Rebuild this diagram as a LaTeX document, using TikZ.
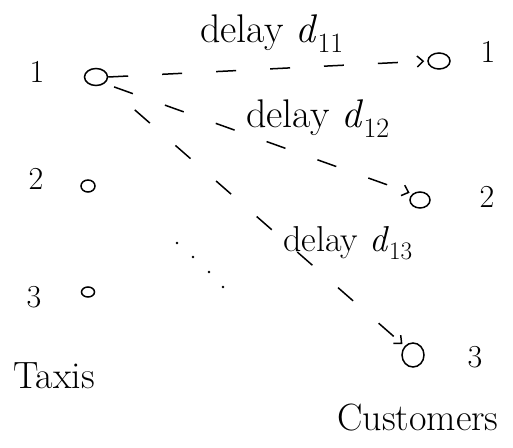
\documentclass[tikz,border=0pt]{standalone}
\usetikzlibrary{shapes.geometric,arrows.meta}
\newcommand{\dl}[1]{delay \textit{d}\textsubscript{#1}}
\begin{document}
\begin{tikzpicture}[x=1pt,y=-1pt,line width=1.5pt,
  dot/.style={ellipse,draw,inner sep=0pt},
  num/.style={font=\fontsize{32}{36}\selectfont},
  word/.style={font=\fontsize{38}{42}\selectfont},
  delaylbl/.style={font=\fontsize{40}{44}\selectfont,inner sep=0pt},
  link/.style={dash pattern=on 20pt off 34pt,shorten >=3pt,
    -{Straight Barb[length=6pt,width=11pt]}},
]
\useasboundingbox (0,0) rectangle (513,447);

% taxis
\node[num] (t1l) at (37,72) {1};
\node[dot,minimum width=23pt,minimum height=17pt] (t1) at (96,77) {};
\node[num] (t2l) at (36,179) {2};
\node[dot,minimum width=14pt,minimum height=12pt] (t2) at (88,186) {};
\node[num] (t3l) at (34,297) {3};
\node[dot,minimum width=13pt,minimum height=10pt] (t3) at (88,292) {};
\node[word] (taxis) at (54,376) {Taxis};

% customers
\node[dot,minimum width=22pt,minimum height=16pt] (c1) at (439,61) {};
\node[num] (c1l) at (488,52) {1};
\node[dot,minimum width=20pt,minimum height=16pt] (c2) at (420,200) {};
\node[num] (c2l) at (487,197) {2};
\node[dot,minimum width=22pt,minimum height=24pt] (c3) at (413,355) {};
\node[num] (c3l) at (475,357) {3};
\node[word] (cust) at (418,418) {Customers};

% delays from taxi 1
\draw[link] (t1.east) -- (c1.west);
\draw[link,shorten <=10pt] (t1.south east) -- (c2.north west);
\draw[link,shorten <=40pt] (t1.south east) -- (c3.north west);

\node[delaylbl] (d11) at (272,34) {\dl{11}};
\node[delaylbl] (d12) at (318,119) {\dl{12}};
\node[delaylbl,font=\fontsize{36}{40}\selectfont] (d13) at (348,243) {\dl{13}};

% further links, left out
\foreach \p in {(177,243),(193,257),(209,272),(223,287)}
  \fill \p circle (1.4pt);
\end{tikzpicture}
\end{document}
